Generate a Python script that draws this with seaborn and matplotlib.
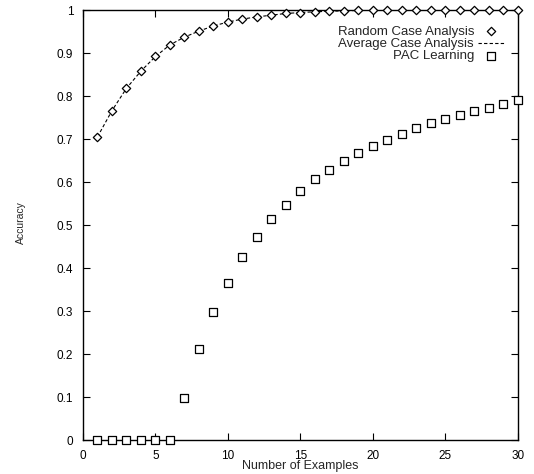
import numpy as np
import pandas as pd
import matplotlib
matplotlib.use("Agg")
import matplotlib.pyplot as plt
import seaborn as sns

# data
examples = list(range(1, 31))
random_case = [0.705, 0.766, 0.818, 0.858, 0.892, 0.919, 0.937, 0.951, 0.963, 0.972,
               0.979, 0.984, 0.988, 0.992, 0.994, 0.996, 0.997, 0.998, 0.999, 0.999,
               1.0, 1.0, 1.0, 1.0, 1.0, 1.0, 1.0, 1.0, 1.0, 1.0]
average_case = [0.705, 0.766, 0.818, 0.858, 0.892, 0.919, 0.937, 0.951, 0.963, 0.972,
                0.979, 0.984, 0.988, 0.992, 0.994, 0.996, 0.997, 0.998, 0.999, 0.999,
                1.0, 1.0, 1.0, 1.0, 1.0, 1.0, 1.0, 1.0, 1.0, 1.0]
pac_learning = [0.0, 0.0, 0.0, 0.0, 0.0, 0.0, 0.097, 0.212, 0.297, 0.366,
                0.425, 0.472, 0.514, 0.547, 0.579, 0.606, 0.629, 0.648, 0.667, 0.683,
                0.698, 0.712, 0.725, 0.737, 0.747, 0.756, 0.765, 0.773, 0.781, 0.790]
yticks = ["0", "0.1", "0.2", "0.3", "0.4", "0.5", "0.6", "0.7", "0.8", "0.9", "1"]

df = pd.DataFrame({"x": examples, "random": random_case,
                   "average": average_case, "pac": pac_learning})

sns.set_style("ticks")
plt.rcParams['font.family'] = ['Liberation Sans', 'DejaVu Sans']

fig = plt.figure(figsize=(5.34, 4.74), dpi=100)
ax = fig.add_axes([0.1554, 0.0717, 0.8146, 0.9072])

sns.scatterplot(data=df, x="x", y="random", ax=ax, marker="D", s=18,
                facecolor="white", edgecolor="black", linewidth=0.9,
                label="Random Case Analysis", zorder=3, clip_on=False)
sns.lineplot(data=df, x="x", y="average", ax=ax, color="black", linewidth=0.8,
             label="Average Case Analysis", zorder=2)
ax.lines[-1].set_dashes([3, 2])
sns.scatterplot(data=df, x="x", y="pac", ax=ax, marker="s", s=30,
                facecolor="white", edgecolor="black", linewidth=0.9,
                label="PAC Learning", zorder=3, clip_on=False)

ax.set_xlim(0, 30)
ax.set_ylim(0, 1)
ax.set_xticks([0, 5, 10, 15, 20, 25, 30])
ax.set_yticks(np.arange(0, 1.01, 0.1))
ax.set_yticklabels(yticks)
ax.tick_params(direction="in", top=True, right=True, length=5, width=0.8,
               labelsize=8.5, colors="black", pad=7)
for s in ax.spines.values():
    s.set_linewidth(1.0)
    s.set_color("black")

ax.set_xlabel("Number of Examples", fontsize=9)
ax.xaxis.set_label_coords(0.5, -0.047)
ax.set_ylabel("Accuracy", fontsize=7.5)
ax.yaxis.set_label_coords(-0.131, 0.505)

leg = ax.legend(loc="upper right", bbox_to_anchor=(0.99, 0.985), frameon=False,
                markerfirst=False, fontsize=9.5, labelspacing=0.0,
                handlelength=2.0, handletextpad=0.3, borderpad=0.2)

fig.savefig("out.png", dpi=100)
